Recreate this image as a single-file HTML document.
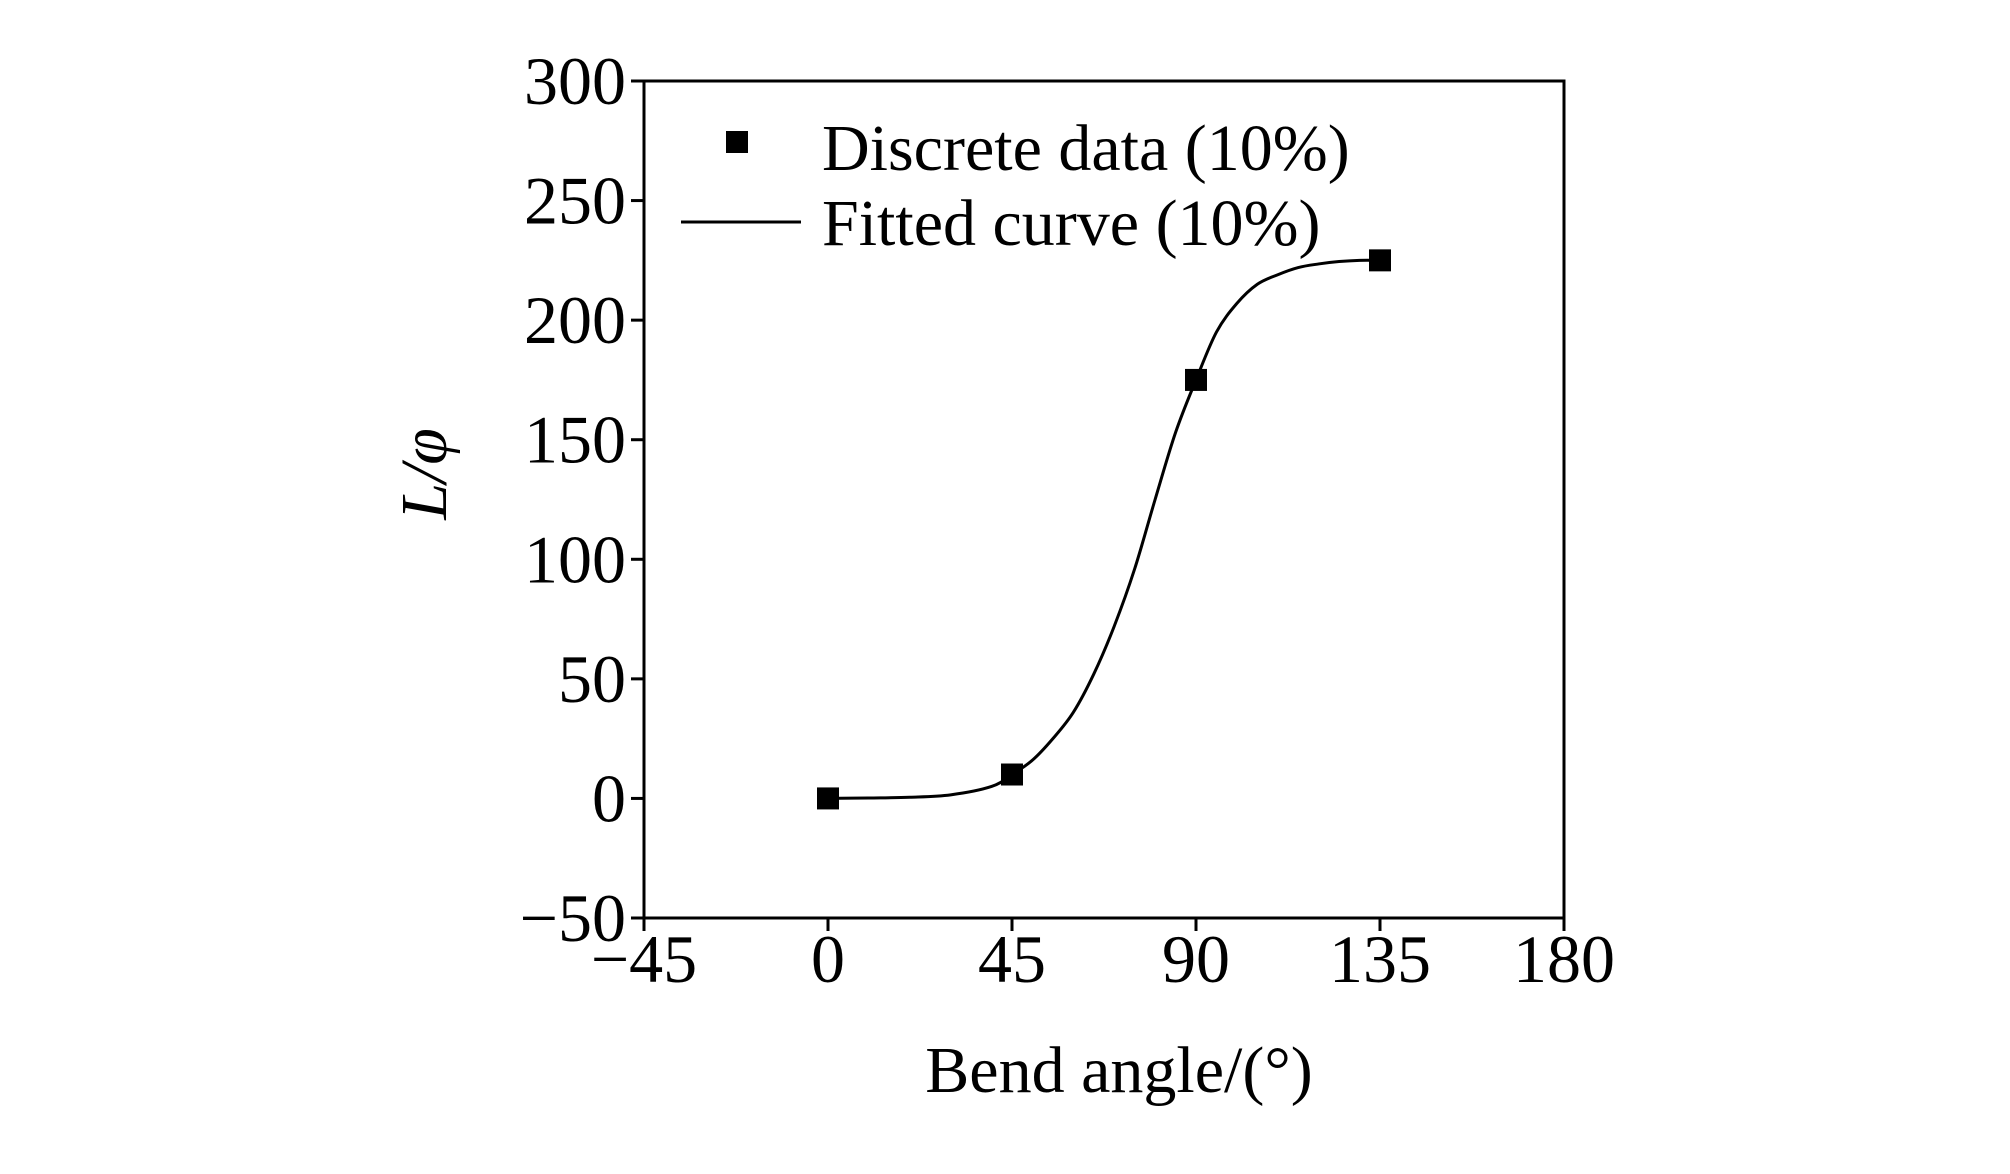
<!DOCTYPE html>
<html><head><meta charset="utf-8"><style>
html,body{margin:0;padding:0;background:#fff;}
svg text{font-family:"Liberation Serif",serif;fill:#000;}
</style></head><body>
<svg id="chart" width="2010" height="1169" viewBox="0 0 2010 1169" xmlns="http://www.w3.org/2000/svg">
<g id="axes"></g>
<g id="series"></g>
<g>
<rect x="726" y="131" width="22" height="22" fill="#000"/>
<text x="822" y="170" font-size="66">Discrete data (10%)</text>
<line x1="681" y1="222" x2="801" y2="222" stroke="#000" stroke-width="3"/>
<text x="822" y="245" font-size="66">Fitted curve (10%)</text>
</g>
<text x="1119" y="1092" font-size="66" text-anchor="middle">Bend angle/(°)</text>
<text transform="translate(446,474) rotate(-90)" font-size="66" text-anchor="middle" font-style="italic">L/φ</text>
</svg>
<script>
const xTicks=[-45,0,45,90,135,180];
const yTicks=[-50,0,50,100,150,200,250,300];
const dataX=[0,45,90,135];
const dataY=[0,10,175,225];
const curveX=[0,10,20,30,40,45,50,55,60,65,70,75,80,85,90,95,100,105,110,115,120,125,130,135];
const curveY=[0,0.2,0.5,1.5,5,10,16,25,36,52,72,96,125,153,175,195,207,215,219,222,223.5,224.5,225,225];
const L=644,R=1564,T=81,B=918;
const sx=v=>L+(v+45)/225*(R-L);
const sy=v=>B-(v+50)/350*(B-T);
const NS='http://www.w3.org/2000/svg';
const axes=document.getElementById('axes');
const ser=document.getElementById('series');
function mk(tag,attrs,parent){const e=document.createElementNS(NS,tag);for(const k in attrs)e.setAttribute(k,attrs[k]);parent.appendChild(e);return e;}
const frame=mk('rect',{x:L,y:T,width:R-L,height:B-T,fill:'none',stroke:'#000','stroke-width':3},axes);


xTicks.forEach(t=>{
  const ln=mk('line',{x1:sx(t),x2:sx(t),y1:B,y2:B+13,stroke:'#000','stroke-width':3},axes);
  
  
  const tx=mk('text',{x:sx(t),y:B+64,'font-size':68,'text-anchor':'middle'},axes);
  tx.textContent=t<0?'\u2212'+(-t):String(t);
  
  
});
yTicks.forEach(t=>{
  const ln=mk('line',{x1:L-13,x2:L,y1:sy(t),y2:sy(t),stroke:'#000','stroke-width':3},axes);
  
  
  const tx=mk('text',{x:L-18,y:sy(t)+23,'font-size':68,'text-anchor':'end'},axes);
  tx.textContent=t<0?'\u2212'+(-t):String(t);
  
  
});
const P=curveX.map((x,i)=>[sx(x),sy(curveY[i])]);
let d='M'+P[0][0]+','+P[0][1];
for(let i=0;i<P.length-1;i++){
  const p0=P[Math.max(0,i-1)],p1=P[i],p2=P[i+1],p3=P[Math.min(P.length-1,i+2)];
  const c1=[p1[0]+(p2[0]-p0[0])/6,p1[1]+(p2[1]-p0[1])/6];
  const c2=[p2[0]-(p3[0]-p1[0])/6,p2[1]-(p3[1]-p1[1])/6];
  d+=' C'+c1[0]+','+c1[1]+' '+c2[0]+','+c2[1]+' '+p2[0]+','+p2[1];
}
const path=mk('path',{d:d,fill:'none',stroke:'#000','stroke-width':3},ser);


dataX.forEach((x,i)=>{
  const r=mk('rect',{x:sx(x)-11,y:sy(dataY[i])-11,width:22,height:22,fill:'#000'},ser);
  
  
});
</script>
</body></html>
